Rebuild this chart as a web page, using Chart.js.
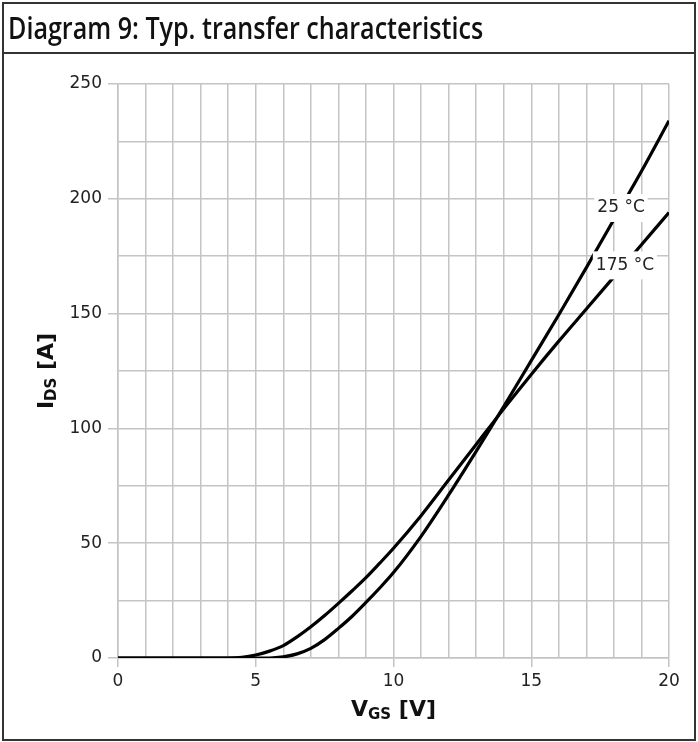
<!DOCTYPE html>
<html>
<head>
<meta charset="utf-8">
<script src="https://cdn.jsdelivr.net/npm/chart.js@4"></script>
<style>
  body { margin: 0; background: #fff; }
  #wrap { position: relative; width: 698px; height: 742px; }
  #myChart { position: absolute; left: 0; top: 0; }
  #frame { position: absolute; left: 2px; top: 2px; width: 690px; height: 735px; border: 2px solid #333; }
  #header { position: absolute; left: 0; top: 0; width: 690px; height: 48px; border-bottom: 2px solid #333; }
  #title { position: absolute; left: 4px; top: 2px; font-family: "Open Sans", sans-serif; font-weight: 600; font-size: 31px; color: #111; white-space: nowrap; transform-origin: 0 0; }
</style>
</head>
<body>
<div id="wrap">
  <canvas id="myChart" width="698" height="742"></canvas>
  <div id="frame">
    <div id="header"><span id="title">Diagram 9: Typ. transfer characteristics</span></div>
  </div>
</div>
<script>
var vgs  = [0, 1, 2, 3, 4, 4.5, 5, 5.5, 6, 6.5, 7, 7.5, 8, 8.5, 9, 9.5, 10, 11, 12, 13, 14, 15, 16, 17, 18, 19, 20];
var i25  = [0, 0, 0, 0, 0, 0, 0, 0, 0.5, 1.8, 4.2, 8, 12.9, 18.2, 24.2, 30.5, 37.2, 53, 71, 90, 109.5, 129.5, 149.5, 170, 191, 212, 234];
var i175 = [0, 0, 0, 0, 0, 0.3, 1.3, 3, 5.4, 9.2, 13.6, 18.5, 23.8, 29.3, 35, 41.3, 47.8, 62, 77.5, 93, 108.5, 123.5, 138, 152, 166, 180, 194];

// curve labels: [text, x value, y value]
var curveLabels = [["25 °C", 18.26, 196], ["175 °C", 18.4, 171]];

// squeeze title to the width in the reference
var t = document.getElementById("title");
t.style.transform = "scaleX(" + (475 / t.offsetWidth) + ")";

function pts(ys) {
  return vgs.map(function (v, i) { return { x: v, y: ys[i] }; });
}

var gridColor = "#c4c4c4";

var labelPlugin = {
  id: "curveLabels",
  afterDatasetsDraw: function (chart) {
    var c = chart.ctx, xs = chart.scales.x, ys = chart.scales.y;
    c.save();
    c.font = "17px 'DejaVu Sans'";
    c.textAlign = "center";
    c.textBaseline = "middle";
    curveLabels.forEach(function (l) {
      var px = xs.getPixelForValue(l[1]), py = ys.getPixelForValue(l[2]);
      var w = c.measureText(l[0]).width;
      c.fillStyle = "#fff";
      c.fillRect(px - w / 2 - 3, py - 14, w + 6, 28);
      c.fillStyle = "#222";
      c.fillText(l[0], px, py);
    });
    c.restore();
  }
};

var axisTitlePlugin = {
  id: "axisTitles",
  afterDraw: function (chart) {
    var c = chart.ctx, a = chart.chartArea;
    c.save();
    c.fillStyle = "#111";
    c.textBaseline = "alphabetic";
    function sub(main, s, rest, x, y) {
      c.font = "bold 22px 'DejaVu Sans'";
      var w1 = c.measureText(main).width, w3 = c.measureText(rest).width;
      c.font = "bold 15px 'DejaVu Sans'";
      var w2 = c.measureText(s).width;
      var x0 = x - (w1 + w2 + w3) / 2;
      c.textAlign = "left";
      c.font = "bold 22px 'DejaVu Sans'";
      c.fillText(main, x0, y);
      c.font = "bold 15px 'DejaVu Sans'";
      c.fillText(s, x0 + w1, y + 3);
      c.font = "bold 22px 'DejaVu Sans'";
      c.fillText(rest, x0 + w1 + w2, y);
    }
    sub("V", "GS", " [V]", (a.left + a.right) / 2, 716);
    c.translate(53, (a.top + a.bottom) / 2);
    c.rotate(-Math.PI / 2);
    sub("I", "DS", " [A]", 0, 0);
    c.restore();
  }
};

var ctx = document.getElementById("myChart");
var chart = new Chart(ctx, {
  type: "line",
  data: {
    datasets: [{
      label: "25 °C",
      data: pts(i25),
      borderColor: "#000",
      borderWidth: 3.2,
      pointRadius: 0,
      cubicInterpolationMode: "monotone",
      fill: false
    }, {
      label: "175 °C",
      data: pts(i175),
      borderColor: "#000",
      borderWidth: 3.2,
      pointRadius: 0,
      cubicInterpolationMode: "monotone",
      fill: false
    }]
  },
  options: {
    responsive: false,
    animation: false,
    layout: { padding: { top: 84, right: 29, left: 0, bottom: 0 } },
    scales: {
      x: {
        type: "linear",
        min: 0,
        max: 20,
        afterFit: function (s) { s.height = 84; },
        grid: {
          color: gridColor,
          lineWidth: 1.5,
          tickLength: 9,
          tickColor: function (c) { return c.tick && c.tick.value % 5 === 0 ? gridColor : "rgba(0,0,0,0)"; }
        },
        border: { color: gridColor, width: 1.5 },
        ticks: {
          stepSize: 1,
          autoSkip: false,
          maxRotation: 0,
          padding: 4,
          color: "#222",
          font: { family: "DejaVu Sans", size: 17 },
          callback: function (v) { return v % 5 === 0 ? v : ""; }
        }
      },
      y: {
        min: 0,
        max: 250,
        afterFit: function (s) { s.width = 118; },
        grid: {
          color: gridColor,
          lineWidth: 1.5,
          tickLength: 10,
          tickColor: function (c) { return c.tick && c.tick.value % 50 === 0 ? gridColor : "rgba(0,0,0,0)"; }
        },
        border: { color: gridColor, width: 1.5 },
        ticks: {
          stepSize: 25,
          autoSkip: false,
          padding: 6,
          color: "#222",
          font: { family: "DejaVu Sans", size: 17 },
          callback: function (v) { return v % 50 === 0 ? v : ""; }
        }
      }
    },
    plugins: {
      legend: { display: false },
      tooltip: { enabled: false }
    }
  },
  plugins: [labelPlugin, axisTitlePlugin]
});
</script>
</body>
</html>
